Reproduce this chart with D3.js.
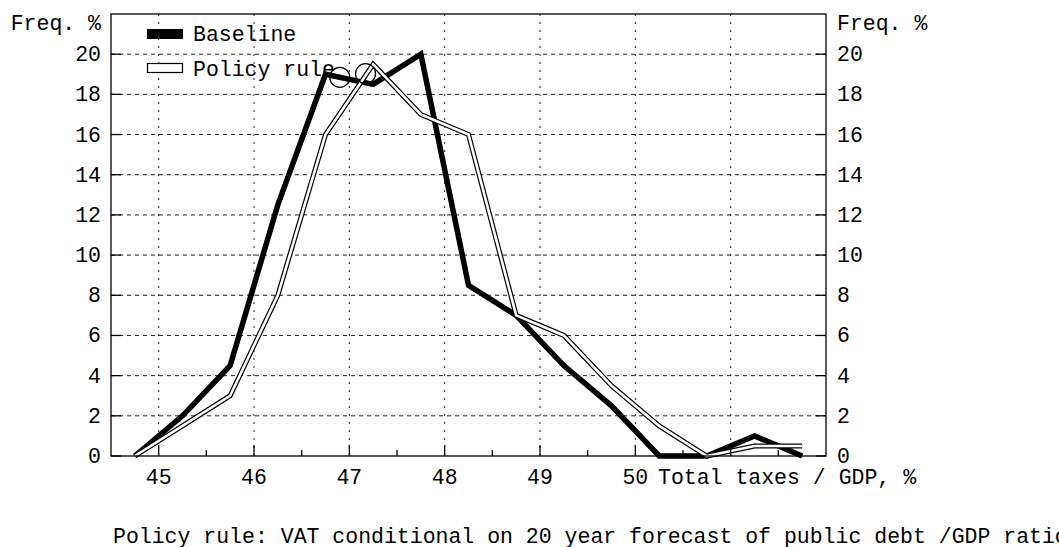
<!DOCTYPE html>
<html>
<meta charset="utf-8">
<style>
  body {
    margin: 0;
    padding: 0;
    background-color: #ffffff;
    overflow: hidden;
  }
  text {
    font-family: "Liberation Mono", "DejaVu Sans Mono", monospace;
    font-size: 21.5px;
    fill: #000;
  }
  .grid line {
    stroke: #222;
    stroke-width: 1;
  }
</style>
<body>

<script src="https://cdn.jsdelivr.net/npm/d3@7"></script>

<div id="chart"></div>

<script>

// bin centres (total taxes / GDP, %) and frequencies (%)
var bins = [44.75, 45.25, 45.75, 46.25, 46.75, 47.25, 47.75, 48.25, 48.75, 49.25, 49.75, 50.25, 50.75, 51.25, 51.75];
var baseline = [0, 2, 4.5, 12.5, 19, 18.5, 20, 8.5, 7, 4.5, 2.5, 0, 0, 1, 0];
var policyRule = [0, 1.5, 3, 8, 16, 19.5, 17, 16, 7, 6, 3.5, 1.5, 0, 0.5, 0.5];

// the two circle markers near the top
var markerX = [46.9, 47.17];
var markerY = [18.85, 19.03];

var yTicks = [0, 2, 4, 6, 8, 10, 12, 14, 16, 18, 20];
var xTicks = [45, 46, 47, 48, 49, 50, 51];
var xMinorTicks = [45.5, 46.5, 47.5, 48.5, 49.5, 50.5, 51.5];
var xLabels = [45, 46, 47, 48, 49, 50];

var seriesNames = ["Baseline", "Policy rule"];
var yTitle = "Freq. %";
var xTitle = "Total taxes / GDP, %";
var caption = "Policy rule: VAT conditional on 20 year forecast of public debt /GDP ratio";

// dimensions
var W = 1059, H = 547;
var margin = {top: 14, right: 233, bottom: 91, left: 111},
    width = W - margin.left - margin.right,
    height = H - margin.top - margin.bottom;

var root = d3.select("#chart")
  .append("svg")
    .attr("width", W)
    .attr("height", H);

var svg = root.append("g")
    .attr("transform", "translate(" + margin.left + "," + margin.top + ")");

var x = d3.scaleLinear().domain([44.5, 52]).range([0, width]);
var y = d3.scaleLinear().domain([0, 22]).range([height, 0]);

// grid lines
var grid = svg.append("g").attr("class", "grid");
grid.selectAll(".gh")
  .data(yTicks.filter(function(d) { return d > 0; }))
  .enter().append("line")
    .attr("x1", 0).attr("x2", width)
    .attr("y1", function(d) { return y(d); })
    .attr("y2", function(d) { return y(d); })
    .style("stroke-dasharray", "4,4");
grid.selectAll(".gv")
  .data(xTicks)
  .enter().append("line")
    .attr("y1", 0).attr("y2", height)
    .attr("x1", function(d) { return x(d); })
    .attr("x2", function(d) { return x(d); })
    .style("stroke-dasharray", "2,6");

var line = d3.line()
  .x(function(d, i) { return x(bins[i]); })
  .y(function(d) { return y(d); });

// baseline: thick black
svg.append("path")
  .datum(baseline)
  .attr("d", line)
  .style("fill", "none")
  .style("stroke", "#000")
  .style("stroke-width", 5.5)
  .style("stroke-linejoin", "miter")
  .style("stroke-miterlimit", 10);

// policy rule: hollow double line
svg.append("path")
  .datum(policyRule)
  .attr("d", line)
  .style("fill", "none")
  .style("stroke", "#000")
  .style("stroke-width", 5)
  .style("stroke-miterlimit", 10);
svg.append("path")
  .datum(policyRule)
  .attr("d", line)
  .style("fill", "none")
  .style("stroke", "#fff")
  .style("stroke-width", 2.6)
  .style("stroke-miterlimit", 10);

// circle markers
svg.selectAll(".marker")
  .data(markerX)
  .enter().append("circle")
    .attr("cx", function(d) { return x(d); })
    .attr("cy", function(d, i) { return y(markerY[i]); })
    .attr("r", 10)
    .style("fill", "none")
    .style("stroke", "#000")
    .style("stroke-width", 1.3);

// axes with inward ticks
var ax = svg.append("g").style("stroke", "#000").style("stroke-width", 1.3);
ax.append("rect")
  .attr("width", width).attr("height", height)
  .style("fill", "none");
ax.selectAll(".ylt").data(yTicks).enter().append("line")
  .attr("x1", 0).attr("x2", 10)
  .attr("y1", function(d) { return y(d); }).attr("y2", function(d) { return y(d); });
ax.selectAll(".yrt").data(yTicks).enter().append("line")
  .attr("x1", width - 10).attr("x2", width)
  .attr("y1", function(d) { return y(d); }).attr("y2", function(d) { return y(d); });
ax.selectAll(".xt").data(xTicks).enter().append("line")
  .attr("y1", height - 11).attr("y2", height)
  .attr("x1", function(d) { return x(d); }).attr("x2", function(d) { return x(d); });
ax.selectAll(".xmt").data(xMinorTicks).enter().append("line")
  .attr("y1", height - 6).attr("y2", height)
  .attr("x1", function(d) { return x(d); }).attr("x2", function(d) { return x(d); });

// tick labels
svg.selectAll(".yl").data(yTicks).enter().append("text")
  .attr("x", -10)
  .attr("y", function(d) { return y(d) + 7; })
  .attr("text-anchor", "end")
  .text(function(d) { return d; });
svg.selectAll(".yr").data(yTicks).enter().append("text")
  .attr("x", width + 11)
  .attr("y", function(d) { return y(d) + 7; })
  .text(function(d) { return d; });
svg.selectAll(".xl").data(xLabels).enter().append("text")
  .attr("x", function(d) { return x(d); })
  .attr("y", height + 28)
  .attr("text-anchor", "middle")
  .text(function(d) { return d; });

// titles
svg.append("text").attr("x", -10).attr("y", 16).attr("text-anchor", "end").text(yTitle);
svg.append("text").attr("x", width + 11).attr("y", 16).text(yTitle);
svg.append("text").attr("x", 547).attr("y", height + 28).text(xTitle);
root.append("text").attr("x", 113).attr("y", 543).text(caption);

// legend
var legend = svg.append("g").attr("transform", "translate(36,15)");
legend.append("rect")
  .attr("x", 0).attr("y", 0).attr("width", 36).attr("height", 10)
  .style("fill", "#000");
legend.append("rect")
  .attr("x", 0.5).attr("y", 34.5).attr("width", 35).attr("height", 9)
  .style("fill", "#fff").style("stroke", "#000").style("stroke-width", 1.2);
legend.selectAll(".lt").data(seriesNames).enter().append("text")
  .attr("x", 46)
  .attr("y", function(d, i) { return 12 + i * 35; })
  .text(function(d) { return d; });

</script>
</body>
</html>
